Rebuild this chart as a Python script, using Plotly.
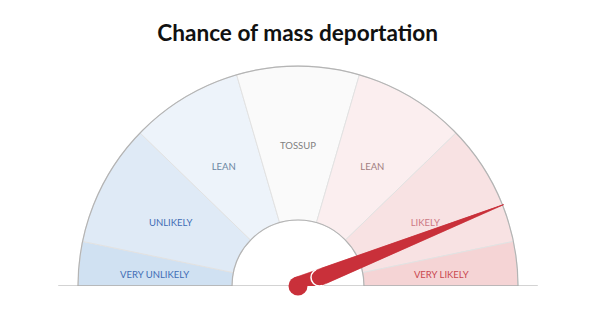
import math
import plotly.graph_objects as go

# Gauge bands (percent scale, 0 = left edge, 100 = right edge)
band_labels = ["VERY UNLIKELY", "UNLIKELY", "LEAN", "TOSSUP", "LEAN", "LIKELY", "VERY LIKELY"]
band_edges = [0, 6.5, 24.5, 41, 59, 75.5, 93.5, 100]
band_fills = ["#d0e1f2", "#dfeaf6", "#edf3fa", "#fafafa", "#fbeeef", "#f8e2e3", "#f5d4d5"]
label_colors = ["#3f6db5", "#3f6db5", "#6a84a0", "#808080", "#a07d80", "#cc7883", "#c9474f"]

# Needle reading (percent)
needle_value = 88

title_text = "Chance of mass deportation"

DEG = 180 / 100  # percent -> degrees
INNER = 0.3
OUTER = 1.0
needle_color = "#c9303a"

centers = [(a + b) / 2 * DEG for a, b in zip(band_edges[:-1], band_edges[1:])]
widths = [(b - a) * DEG for a, b in zip(band_edges[:-1], band_edges[1:])]

fig = go.Figure()

# base line under the gauge
fig.add_trace(go.Scatterpolar(
    r=[1.09, 1.09], theta=[0, 180], mode="lines",
    line=dict(color="#a8a8a8", width=1.2), hoverinfo="skip", showlegend=False,
))

# coloured bands
fig.add_trace(go.Barpolar(
    r=[OUTER - INNER] * len(centers), base=INNER, theta=centers, width=widths,
    marker=dict(color=band_fills, line=dict(color="#e2e2e2", width=1)),
    hoverinfo="skip", showlegend=False,
))

# outer / inner rim
fig.add_trace(go.Barpolar(
    r=[OUTER - INNER], base=INNER, theta=[90], width=[180],
    marker=dict(color="rgba(0,0,0,0)", line=dict(color="#b4b4b4", width=1.2)),
    hoverinfo="skip", showlegend=False,
))

# band labels
fig.add_trace(go.Scatterpolar(
    r=[0.655] * len(centers), theta=centers, mode="text", text=band_labels,
    textposition="bottom center",
    textfont=dict(family="Lato, sans-serif", size=9.5, color=label_colors),
    hoverinfo="skip", showlegend=False,
))

# needle: hub, tapered pointer and rounded collar
ang = needle_value * DEG
half_w = 0.041       # half width of the pointer at the hub
collar_r = 0.105     # distance of the collar from the hub
tip_r = 1.005


def pointer(r0):
    w = half_w * (1 - r0 / tip_r)
    rb = math.hypot(r0, w)
    sp = math.degrees(math.atan2(w, r0)) if r0 > 0 else 90
    return dict(r=[rb, tip_r, rb, rb], theta=[ang - sp, ang, ang + sp, ang - sp])


fig.add_trace(go.Scatterpolar(
    r=[0], theta=[ang], mode="markers",
    marker=dict(size=19, color=needle_color, line=dict(width=0)),
    hoverinfo="skip", showlegend=False,
))
fig.add_trace(go.Scatterpolar(
    **pointer(0), mode="lines", fill="toself", fillcolor=needle_color,
    line=dict(color=needle_color, width=0.5), hoverinfo="skip", showlegend=False,
))
fig.add_trace(go.Scatterpolar(
    r=[collar_r], theta=[ang], mode="markers",
    marker=dict(size=17, color=needle_color, line=dict(width=1.5, color="white")),
    hoverinfo="skip", showlegend=False,
))
fig.add_trace(go.Scatterpolar(
    **pointer(collar_r), mode="lines", fill="toself", fillcolor=needle_color,
    line=dict(color=needle_color, width=0.5), hoverinfo="skip", showlegend=False,
))

W, H = 605, 322
cx, cy_top, Rpx = 298, 286, 242
fig.update_layout(
    width=W, height=H,
    margin=dict(l=0, r=0, t=0, b=0),
    paper_bgcolor="white",
    title=dict(text="<b>" + title_text + "</b>", x=0.492, xanchor="center", y=1 - 33 / H, yanchor="middle",
               font=dict(family="Lato, sans-serif", size=22.6, color="#111111")),
    polar=dict(
        domain=dict(x=[(cx - Rpx) / W, (cx + Rpx) / W], y=[(H - cy_top) / H, (H - cy_top + Rpx) / H]),
        sector=[0, 180],
        hole=0,
        bgcolor="rgba(0,0,0,0)",
        radialaxis=dict(range=[0, 1.1], visible=False, showgrid=False),
        angularaxis=dict(direction="clockwise", rotation=180, visible=False, showgrid=False,
                         thetaunit="degrees"),
    ),
    barmode="overlay",
)

fig.write_html("out.html")
